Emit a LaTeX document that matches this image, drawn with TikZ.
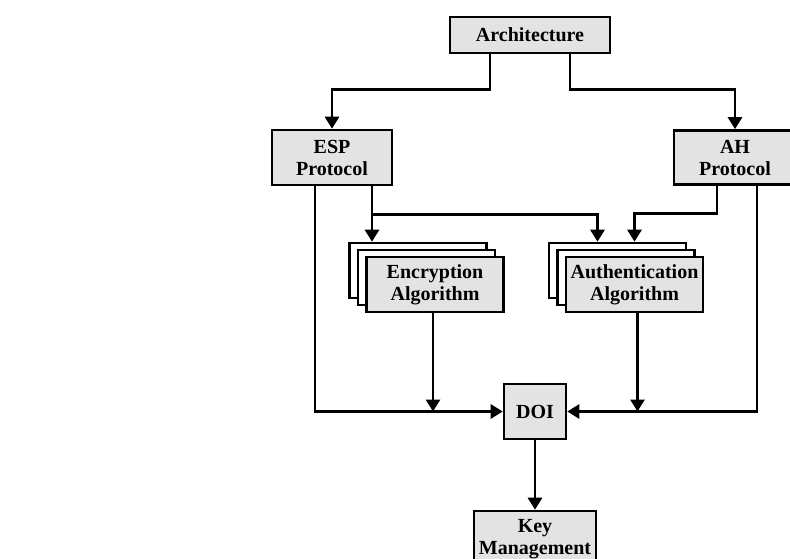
\documentclass[tikz,border=0pt]{standalone}
\usepackage{fontspec}
\setmainfont{Liberation Serif}
\usepackage{tikz}
\usetikzlibrary{arrows.meta,positioning,calc}
\definecolor{boxgray}{gray}{0.89}

\tikzset{
  block/.style={draw, line width=2.6pt, fill=boxgray, align=center, inner sep=0pt,
    font=\fontsize{20}{22}\selectfont\bfseries},
  backblock/.style={draw, line width=2.6pt, fill=white, inner sep=0pt,
    minimum width=137pt, minimum height=55pt},
  link/.style={line width=2.8pt, -{Triangle[width=14pt,length=12pt]}}
}

\begin{document}
\begin{tikzpicture}[x=1pt,y=-1pt]
  % IPsec document overview
  \useasboundingbox (0,0) rectangle (790,559);
  \node[block, minimum width=160pt, minimum height=36pt] (arch) at (530,35) {Architecture};
  \node[block, minimum width=120pt, minimum height=55pt] (esp) at (332,157.5) {ESP\\Protocol};
  \node[block, minimum width=122pt, minimum height=54pt] (ah) at (735,157.5) {AH\\Protocol};
  \node[backblock] (encback) at (418,270.5) {};
  \node[backblock] (encmid) at (426.5,277.5) {};
  \node[block, minimum width=137pt, minimum height=55pt] (enc) at (435,284.5) {Encryption\\Algorithm};
  \node[backblock] (authback) at (617.5,270.5) {};
  \node[backblock] (authmid) at (626,277.5) {};
  \node[block, minimum width=137pt, minimum height=55pt] (auth) at (634.5,284.5) {Authentication\\Algorithm};
  \node[block, minimum width=62pt, minimum height=55pt] (doi) at (535,411.5) {DOI};
  \node[block, minimum width=122pt, minimum height=56pt] (key) at (535,539) {Key\\Management};

  \draw[link] ([xshift=-40pt]arch.south) -- ++(0,35) -| (esp.north);
  \draw[link] ([xshift=40pt]arch.south) -- ++(0,35) -| (ah.north);
  \draw[link] ([xshift=40pt]esp.south) -- ([xshift=40pt]esp.south |- encback.north);
  \draw[link] ([xshift=40pt]esp.south) -- ++(0,28) -| ([xshift=-20pt]authback.north);
  \draw[link] ([xshift=-18pt]ah.south) -- ++(0,28) -| ([xshift=17pt]authback.north);
  \draw[link] ([xshift=-17pt]esp.south) |- (doi.west);
  \draw[link] ([xshift=22pt]ah.south) |- (doi.east);
  \draw[link] ([xshift=-2pt]enc.south) -- ([xshift=-2pt]enc.south |- doi.west);
  \draw[link] ([xshift=3pt]auth.south) -- ([xshift=3pt]auth.south |- doi.west);
  \draw[link] (doi.south) -- (key.north);
\end{tikzpicture}
\end{document}
